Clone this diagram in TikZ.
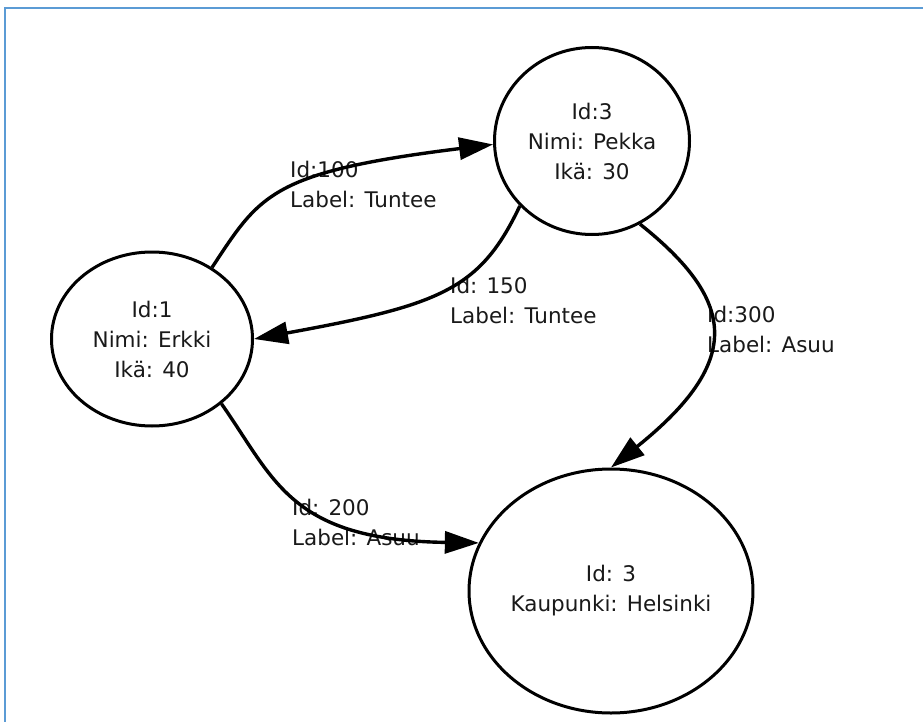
\documentclass[tikz,border=0pt]{standalone}
\usepackage{fontspec}
\setmainfont{DejaVu Sans}
\usepackage{tikz}
\usetikzlibrary{arrows.meta,shapes.geometric}
\definecolor{frameblue}{HTML}{5B9BD5}

\begin{document}
\begin{tikzpicture}[
x=1pt,y=-1pt,
font=\fontsize{21.5}{30}\selectfont,
person/.style={ellipse,draw,line width=3pt,inner sep=0pt,align=center,text=black!90},
rel/.style={-{Triangle[length=34pt,width=22pt]},line width=3.4pt},
rellabel/.style={anchor=west,align=left,inner sep=0pt,text=black!90}]
    % Draw frame
    \useasboundingbox (0,0) rectangle (923,722);
    \draw[line width=2.4pt,color=frameblue] (5,722) |- (923,8);

    % Draw nodes
    \node[person,minimum width=201pt,minimum height=174pt] (erkki) at (152,339) {Id:1\\Nimi: Erkki\\Ikä: 40};
    \node[person,minimum width=195pt,minimum height=187pt] (pekka) at (592,141) {Id:3\\Nimi: Pekka\\Ikä: 30};
    \node[person,minimum width=268pt,minimum height=244pt] (helsinki) at (611,591) {Id: 3\\Kaupunki: Helsinki};

    % Edge labels
    \node[rellabel] (l100) at (290,184) {Id:100\\Label: Tuntee};
    \node[rellabel] (l150) at (450,300) {Id: 150\\Label: Tuntee};
    \node[rellabel] (l300) at (707,329) {Id:300\\Label: Asuu};
    \node[rellabel] (l200) at (292,522) {Id: 200\\Label: Asuu};

    % Draw edges
    \draw[rel] (erkki.50) .. controls (260,195) and (270,172) .. (pekka.182);
    \draw[rel] (pekka.222) .. controls (480,290) and (440,305) .. (erkki.east);
    \draw[rel] (pekka.300) .. controls (735,300) and (745,360) .. (helsinki.north);
    \draw[rel] (erkki.317) .. controls (275,480) and (290,540) .. (helsinki.160);

\end{tikzpicture}
\end{document}
